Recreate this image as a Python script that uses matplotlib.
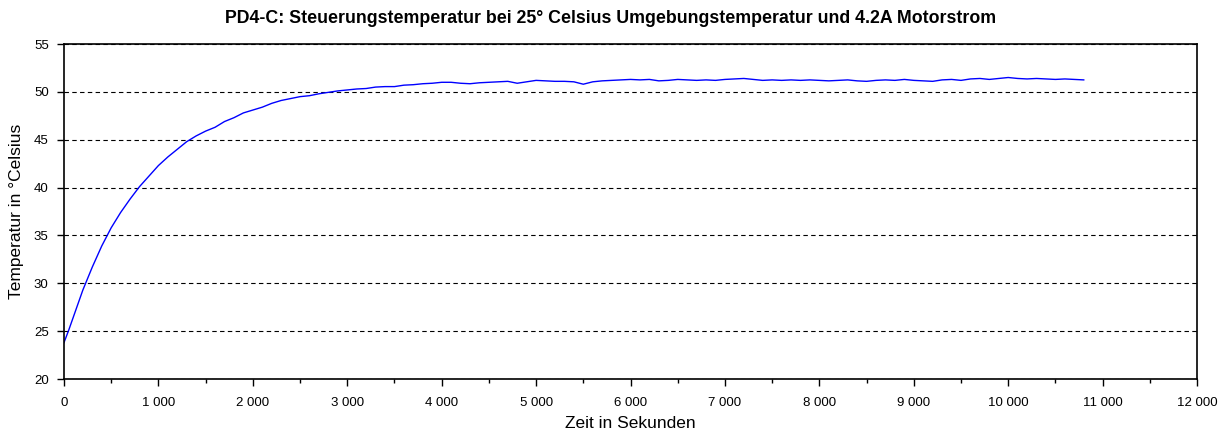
import matplotlib
matplotlib.use("Agg")
import matplotlib.pyplot as plt
from matplotlib.ticker import FuncFormatter, MultipleLocator

plt.rcParams['font.family'] = ['Liberation Sans', 'DejaVu Sans']

# time in seconds, temperature
zeit = [0, 50, 100, 150] + list(range(200, 10801, 100))
temperatur = [
    23.8, 25.1, 26.5, 27.9,
    29.3, 31.7, 33.9, 35.8, 37.4, 38.8, 40.1, 41.2,
    42.3, 43.2, 44.0, 44.8, 45.4, 45.9, 46.3, 46.9, 47.3, 47.8,
    48.1, 48.4, 48.8, 49.1, 49.3, 49.5, 49.6, 49.8, 49.95, 50.1,
    50.2, 50.3, 50.35, 50.5, 50.55, 50.55, 50.7, 50.75, 50.85, 50.9,
    51.0, 51.0, 50.9, 50.85, 50.95, 51.0, 51.05, 51.1, 50.9, 51.05,
    51.2, 51.15, 51.1, 51.1, 51.05, 50.8, 51.05, 51.15, 51.2, 51.25,
    51.3, 51.25, 51.3, 51.15, 51.2, 51.3, 51.25, 51.2, 51.25, 51.2,
    51.3, 51.35, 51.4, 51.3, 51.2, 51.25, 51.2, 51.25, 51.2, 51.25,
    51.2, 51.15, 51.2, 51.25, 51.15, 51.1, 51.2, 51.25, 51.2, 51.3,
    51.2, 51.15, 51.1, 51.25, 51.3, 51.2, 51.35, 51.4, 51.3, 51.4,
    51.5, 51.4, 51.35, 51.4, 51.35, 51.3, 51.35, 51.3, 51.25,
]

titel = "PD4-C: Steuerungstemperatur bei 25° Celsius Umgebungstemperatur und 4.2A Motorstrom"


def tausender(x, pos):
    return f"{int(x):,}".replace(",", " ")


fig = plt.figure(figsize=(12.21, 4.34), dpi=100)
ax = fig.add_axes([0.0524, 0.1267, 0.928, 0.7719])

ax.plot(zeit, temperatur, color="#0000ff", lw=1.0)

ax.set_xlim(0, 12000)
ax.set_ylim(20, 55)
ax.xaxis.set_major_locator(MultipleLocator(1000))
ax.xaxis.set_minor_locator(MultipleLocator(500))
ax.yaxis.set_major_locator(MultipleLocator(5))
ax.xaxis.set_major_formatter(FuncFormatter(tausender))

ax.grid(axis="y", color="black", linestyle=(0, (4, 3)), lw=0.8)
ax.tick_params(axis="both", which="major", labelsize=9.5, length=5, width=1, direction="out")
ax.tick_params(axis="x", which="major", pad=8)
ax.tick_params(axis="y", which="major", pad=6)
ax.tick_params(axis="x", which="minor", length=3, width=1)
for s in ax.spines.values():
    s.set_linewidth(1.2)

ax.set_xlabel("Zeit in Sekunden", fontsize=12.5, labelpad=5)
ax.set_ylabel("Temperatur in °Celsius", fontsize=12.5, labelpad=7)
# title is centred on the whole figure
fig.suptitle(titel, x=0.5, y=0.957, va="center", fontsize=12.8, fontweight="bold")

fig.savefig("out.png", dpi=100)
